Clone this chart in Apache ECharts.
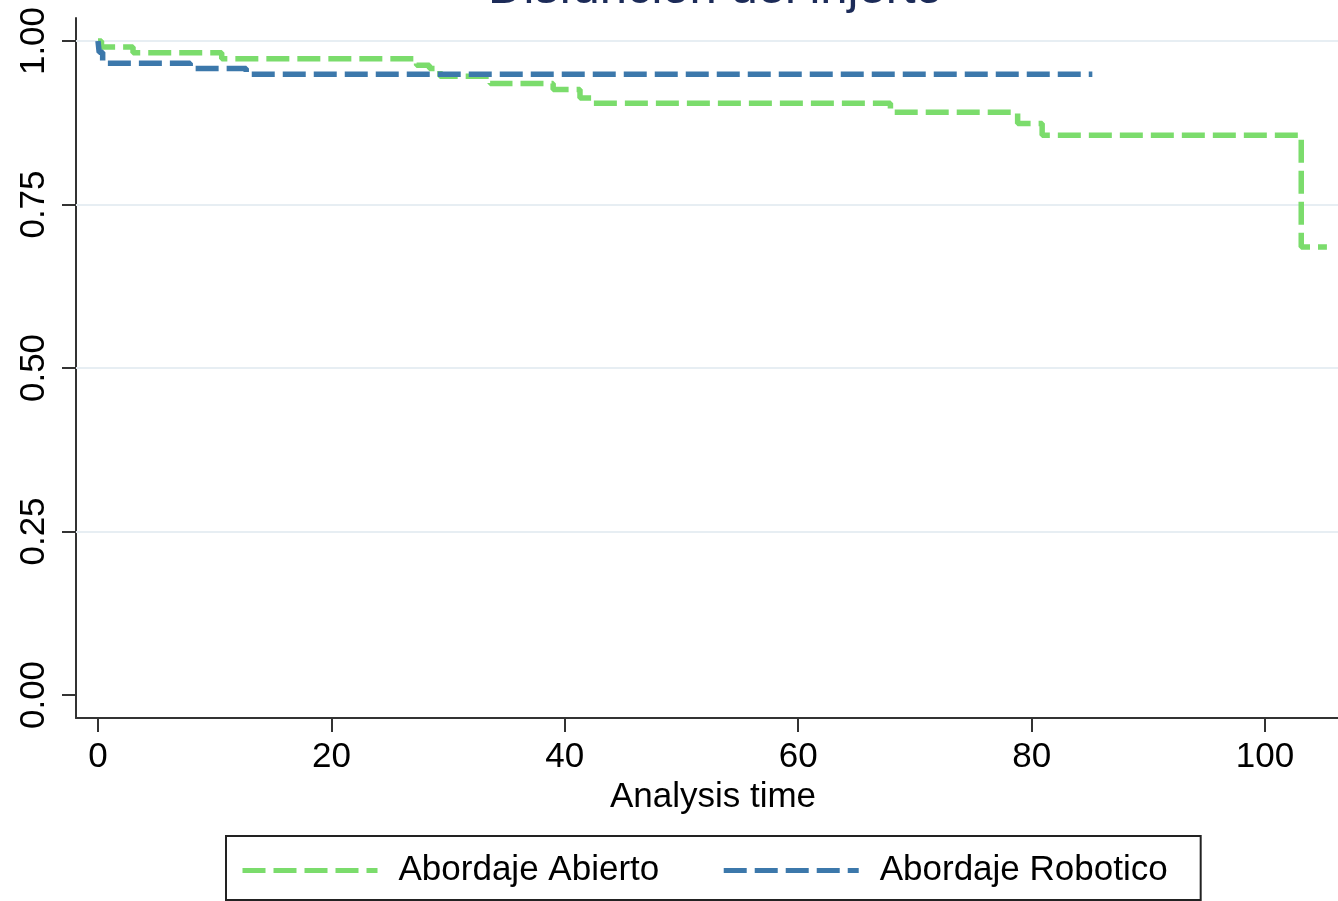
<!DOCTYPE html>
<html>
<head>
<meta charset="utf-8">
<script src="https://cdn.jsdelivr.net/npm/echarts@6/dist/echarts.min.js"></script>
<style>
html,body{margin:0;padding:0;background:#fff;}
#chart{width:1338px;height:901px;}
</style>
</head>
<body>
<div id="chart"></div>
<script>
// Data (Kaplan-Meier style step curves)
const titleText = 'Disfunción del injerto';
const xAxisName = 'Analysis time';
const seriesNames = ['Abordaje Abierto', 'Abordaje Robotico'];

const abiertoTime = [0, 0.3, 3.0, 10.6, 27.3, 28.4, 29.3, 33.6, 39.0, 41.3, 42.3, 67.9, 78.8, 80.9, 103.1, 105.3];
const abiertoSurv = [1.0, 0.991, 0.982, 0.973, 0.963, 0.958, 0.946, 0.935, 0.926, 0.913, 0.905, 0.891, 0.874, 0.856, 0.685, 0.685];

const roboticoTime = [0, 0.1, 0.4, 7.9, 12.7, 85.2];
const roboticoSurv = [1.0, 0.983, 0.966, 0.958, 0.949, 0.949];

const xTicks = [0, 20, 40, 60, 80, 100];
const yTicks = [0, 0.25, 0.5, 0.75, 1.0];

const pair = (t, s) => t.map((v, i) => [v, s[i]]);

const chart = echarts.init(document.getElementById('chart'), null, {renderer: 'canvas'});
const FONT = '"Liberation Sans", Arial, Helvetica, sans-serif';
const green = '#7bdc6c';
const blue = '#3c78ab';

chart.setOption({
  animation: false,
  backgroundColor: '#ffffff',
  title: {
    text: titleText,
    left: 483,
    top: -40,
    textStyle: {fontFamily: FONT, fontSize: 49, fontWeight: 'normal', color: '#1c2b58'}
  },
  grid: {left: 76, right: 0, top: 18, bottom: 183, containLabel: false},
  xAxis: {
    type: 'value',
    min: -1.885,
    max: 106.25,
    name: xAxisName,
    nameLocation: 'middle',
    nameGap: 61,
    nameTextStyle: {fontFamily: FONT, fontSize: 35, color: '#000', padding: [0, 0, 0, 12]},
    axisLine: {show: true, onZero: false, lineStyle: {color: '#333', width: 2}},
    axisTick: {show: true, inside: false, length: 14, customValues: xTicks, lineStyle: {color: '#333', width: 2}},
    axisLabel: {show: true, margin: 22, customValues: xTicks, fontFamily: FONT, fontSize: 35, color: '#000'},
    splitLine: {show: false}
  },
  yAxis: {
    type: 'value',
    min: -0.0352,
    max: 1.0352,
    axisLine: {show: true, onZero: false, lineStyle: {color: '#333', width: 2}},
    axisTick: {show: true, inside: false, length: 14, customValues: yTicks, lineStyle: {color: '#333', width: 2}},
    axisLabel: {
      show: true, margin: 24, rotate: 90, customValues: yTicks,
      fontFamily: FONT, fontSize: 35, color: '#000',
      formatter: v => v.toFixed(2)
    },
    splitLine: {show: false}
  },
  legend: {
    data: seriesNames,
    left: 226,
    top: 836,
    orient: 'horizontal',
    itemWidth: 135,
    itemHeight: 20,
    itemGap: 62,
    padding: [17, 33, 12, 14],
    borderColor: '#222',
    borderWidth: 2,
    backgroundColor: '#fff',
    lineStyle: {width: 5},
    itemStyle: {opacity: 0},
    textStyle: {fontFamily: FONT, fontSize: 35, color: '#000', padding: [0, 0, 0, 16]}
  },
  series: [
    {
      type: 'line',
      name: '',
      data: [],
      silent: true,
      z: 1,
      markLine: {
        silent: true,
        symbol: ['none', 'none'],
        label: {show: false},
        z: 1,
        lineStyle: {color: '#e7eef3', width: 2, type: 'solid'},
        data: yTicks.filter(v => v > 0).map(v => ({yAxis: v}))
      }
    },
    {
      type: 'line',
      name: seriesNames[0],
      step: 'end',
      symbol: 'none',
      showSymbol: false,
      z: 3,
      data: pair(abiertoTime, abiertoSurv),
      lineStyle: {color: green, width: 5.5, type: [23, 8]},
      itemStyle: {color: green}
    },
    {
      type: 'line',
      name: seriesNames[1],
      step: 'end',
      symbol: 'none',
      showSymbol: false,
      z: 4,
      data: pair(roboticoTime, roboticoSurv),
      lineStyle: {color: blue, width: 5.5, type: [23, 8]},
      itemStyle: {color: blue}
    }
  ]
});
</script>
</body>
</html>
